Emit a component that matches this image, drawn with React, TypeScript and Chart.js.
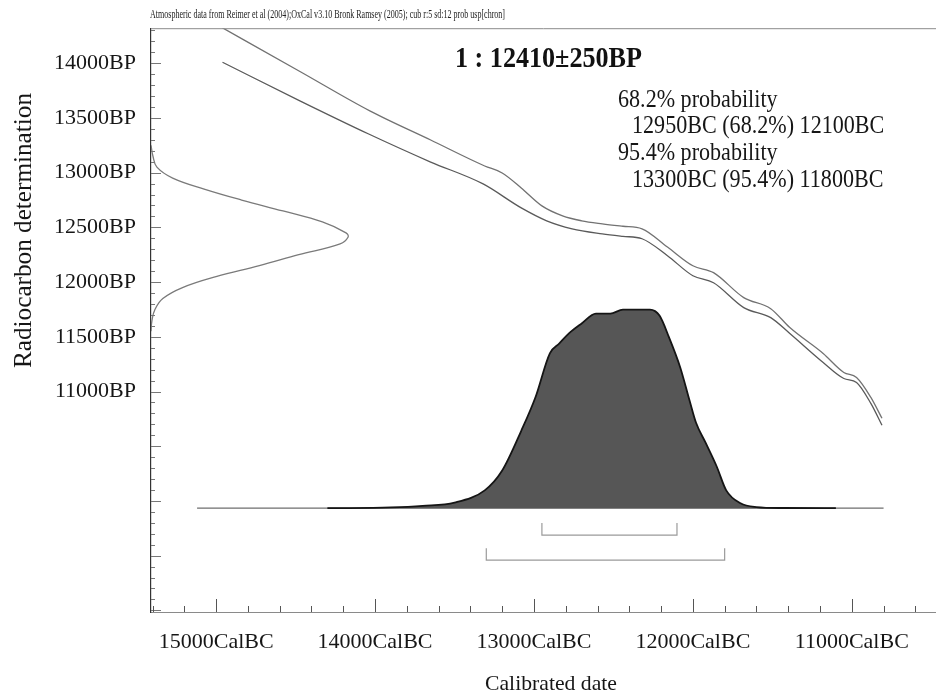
import React, { useEffect, useRef } from "react";
import { Chart, registerables } from "chart.js";

Chart.register(...registerables);

// ---------- texts ----------
const HEADER_TEXT =
  "Atmospheric data from Reimer et al (2004);OxCal v3.10 Bronk Ramsey (2005); cub r:5 sd:12 prob usp[chron]";
const TITLE_TEXT = "1 : 12410±250BP";
const PROB_LINES = [
  "68.2% probability",
  "12950BC (68.2%) 12100BC",
  "95.4% probability",
  "13300BC (95.4%) 11800BC",
];
const X_TITLE = "Calibrated date";
const Y_TITLE = "Radiocarbon determination";

// ---------- axes ----------
const X_MIN_BC = 10470;
const X_MAX_BC = 15410;
const Y_MIN_BP = 8985;
const Y_MAX_BP = 14320;
const X_LABELED = [15000, 14000, 13000, 12000, 11000];
const Y_LABELED = [11000, 11500, 12000, 12500, 13000, 13500, 14000];
const X_MINOR_STEP = 200;
const Y_MINOR_STEP = 100;

// ---------- calibration curve (1 sigma envelope) ----------
const upperBC = [15000, 14470, 14030, 13650, 13310, 13200, 13080, 12950, 12820, 12700, 12570, 12440, 12320, 12160, 12000, 11870, 11680, 11510, 11390, 11180, 11050, 10970, 10880, 10810];
const upperBP = [14356, 13922, 13562, 13298, 13061, 12997, 12860, 12696, 12605, 12560, 12532, 12510, 12487, 12320, 12149, 12086, 11858, 11757, 11584, 11347, 11174, 11128, 10946, 10755];
const lowerBC = [14960, 14470, 14040, 13650, 13320, 13080, 12920, 12760, 12570, 12440, 12320, 12160, 12000, 11870, 11680, 11510, 11390, 11180, 11050, 10970, 10880, 10810];
const lowerBP = [14009, 13654, 13353, 13097, 12897, 12678, 12560, 12487, 12441, 12418, 12396, 12241, 12058, 11994, 11767, 11675, 11530, 11265, 11119, 11083, 10891, 10691];

// ---------- radiocarbon determination distribution ----------
const c14BP = [13250, 13150, 13050, 12950, 12850, 12750, 12650, 12550, 12450, 12410, 12350, 12250, 12150, 12050, 11950, 11850, 11750, 11650, 11550];
const c14Density = [0, 0.01, 0.03, 0.11, 0.27, 0.46, 0.67, 0.87, 0.99, 1.0, 0.96, 0.75, 0.55, 0.33, 0.16, 0.06, 0.02, 0.005, 0];

// ---------- calibrated date distribution ----------
const calBC = [14300, 13900, 13700, 13500, 13310, 13200, 13080, 12990, 12900, 12840, 12780, 12700, 12610, 12520, 12440, 12350, 12270, 12210, 12150, 12080, 12020, 11980, 11920, 11850, 11790, 11700, 11600, 11430, 11100];
const calProb = [0, 0.004, 0.012, 0.028, 0.09, 0.19, 0.39, 0.56, 0.78, 0.83, 0.88, 0.93, 0.98, 0.98, 1.0, 1.0, 1.0, 0.97, 0.86, 0.71, 0.54, 0.43, 0.33, 0.21, 0.09, 0.025, 0.006, 0.001, 0];
const calBaselineBC = [15120, 10800];

// ---------- ranges ----------
const range68 = [12950, 12100];
const range954 = [13300, 11800];
const range68Level = [-0.075, -0.136];
const range954Level = [-0.201, -0.261];

const FONT = '"Liberation Serif", "Times New Roman", serif';

function drawText(ctx: any, text: string, x: number, y: number, font: string, targetWidth: number | null, color = "#161616") {
  ctx.save();
  ctx.font = font;
  ctx.fillStyle = color;
  ctx.textAlign = "left";
  ctx.textBaseline = "alphabetic";
  const w = ctx.measureText(text).width;
  const sx = targetWidth ? targetWidth / w : 1;
  ctx.translate(x, y);
  ctx.scale(sx, 1);
  ctx.fillText(text, 0, 0);
  ctx.restore();
}

const decorPlugin = {
  id: "oxcalDecor",
  afterDraw(chart: any) {
    const { ctx, chartArea: a, scales } = chart;
    ctx.save();
    // top frame line
    ctx.strokeStyle = "#8c8c8c";
    ctx.lineWidth = 1;
    ctx.beginPath();
    ctx.moveTo(a.left, a.top + 0.5);
    ctx.lineTo(a.right, a.top + 0.5);
    ctx.stroke();

    // inner tick marks, y
    const ys = scales.y;
    ctx.strokeStyle = "#777";
    ys.ticks.forEach((t: any) => {
      const py = Math.round(ys.getPixelForValue(t.value)) + 0.5;
      const len = t.value % 500 === 0 ? 10 : 4;
      ctx.beginPath();
      ctx.moveTo(a.left, py);
      ctx.lineTo(a.left + len, py);
      ctx.stroke();
    });
    // inner tick marks, x
    const xs = scales.x;
    ctx.strokeStyle = "#555";
    xs.ticks.forEach((t: any) => {
      const px = Math.round(xs.getPixelForValue(t.value)) + 0.5;
      const len = t.value % 1000 === 0 ? 13 : 6;
      ctx.beginPath();
      ctx.moveTo(px, a.bottom);
      ctx.lineTo(px, a.bottom - len);
      ctx.stroke();
    });
    ctx.restore();

    // texts
    drawText(ctx, HEADER_TEXT, 150, 18, `12px ${FONT}`, 355, "#222");
    drawText(ctx, TITLE_TEXT, 455, 67, `bold 30px ${FONT}`, 187, "#111");
    const baselines = [107, 133, 160, 187];
    const lefts = [618, 632, 618, 632];
    PROB_LINES.forEach((s, i) => {
      ctx.save();
      ctx.font = `26px ${FONT}`;
      const w = ctx.measureText(s).width;
      ctx.restore();
      drawText(ctx, s, lefts[i], baselines[i], `26px ${FONT}`, w * 0.85, "#161616");
    });
    drawText(ctx, X_TITLE, 485, 690, `22px ${FONT}`, 132, "#161616");
    ctx.save();
    ctx.translate(31, 368);
    ctx.rotate(-Math.PI / 2);
    drawText(ctx, Y_TITLE, 0, 0, `25px ${FONT}`, 275, "#161616");
    ctx.restore();
  },
};

export default function App() {
  const ref = useRef<HTMLCanvasElement | null>(null);

  useEffect(() => {
    document.body.style.margin = "0";
    const canvas = ref.current;
    if (!canvas) return;

    const pts = (xs: number[], ys: number[]) => xs.map((x, i) => ({ x, y: ys[i] }));
    const bracket = (r: number[], lv: number[]) => [
      { x: r[0], y: lv[0] },
      { x: r[0], y: lv[1] },
      { x: r[1], y: lv[1] },
      { x: r[1], y: lv[0] },
    ];

    const chart = new Chart(canvas, {
      type: "line",
      data: {
        datasets: [
          {
            label: "calibrated",
            data: pts(calBC, calProb),
            xAxisID: "x",
            yAxisID: "y2",
            fill: "origin",
            backgroundColor: "#565656",
            borderColor: "#151515",
            borderWidth: 1.8,
            cubicInterpolationMode: "monotone",
            pointRadius: 0,
          },
          {
            label: "baseline",
            data: calBaselineBC.map((x) => ({ x, y: 0 })),
            xAxisID: "x",
            yAxisID: "y2",
            borderColor: "#6e6e6e",
            borderWidth: 1.2,
            pointRadius: 0,
            fill: false,
          },
          {
            label: "curve upper",
            data: pts(upperBC, upperBP),
            xAxisID: "x",
            yAxisID: "y",
            borderColor: "#727272",
            borderWidth: 1.3,
            cubicInterpolationMode: "monotone",
            pointRadius: 0,
            fill: false,
          },
          {
            label: "curve lower",
            data: pts(lowerBC, lowerBP),
            xAxisID: "x",
            yAxisID: "y",
            borderColor: "#5a5a5a",
            borderWidth: 1.3,
            cubicInterpolationMode: "monotone",
            pointRadius: 0,
            fill: false,
          },
          {
            label: "radiocarbon",
            data: c14BP.map((bp, i) => ({ x: c14Density[i], y: bp })),
            xAxisID: "x2",
            yAxisID: "y",
            borderColor: "#7a7a7a",
            borderWidth: 1.3,
            tension: 0.4,
            pointRadius: 0,
            fill: false,
          },
          {
            label: "68.2%",
            data: bracket(range68, range68Level),
            xAxisID: "x",
            yAxisID: "y2",
            borderColor: "#9a9a9a",
            borderWidth: 1.2,
            pointRadius: 0,
            fill: false,
          },
          {
            label: "95.4%",
            data: bracket(range954, range954Level),
            xAxisID: "x",
            yAxisID: "y2",
            borderColor: "#9a9a9a",
            borderWidth: 1.2,
            pointRadius: 0,
            fill: false,
          },
        ],
      },
      options: {
        responsive: false,
        devicePixelRatio: 1,
        animation: false,
        events: [],
        layout: { padding: { top: 27, right: 0, bottom: 0, left: 0 } },
        plugins: {
          legend: { display: false },
          tooltip: { enabled: false },
          title: { display: false },
        },
        scales: {
          x: {
            type: "linear",
            position: "bottom",
            reverse: true,
            min: X_MIN_BC,
            max: X_MAX_BC,
            afterBuildTicks: (scale: any) => {
              const ticks = [];
              const start = Math.ceil(X_MIN_BC / X_MINOR_STEP) * X_MINOR_STEP;
              for (let v = start; v <= X_MAX_BC; v += X_MINOR_STEP) ticks.push({ value: v });
              scale.ticks = ticks;
            },
            afterFit: (scale: any) => {
              scale.height = 84;
            },
            grid: { display: false, drawTicks: false },
            border: { display: true, color: "#8a8a8a", width: 1 },
            ticks: {
              autoSkip: false,
              maxRotation: 0,
              minRotation: 0,
              padding: 17,
              color: "#161616",
              font: { family: FONT, size: 22 },
              callback: (v: any) => (X_LABELED.includes(Number(v)) ? `${v}CalBC` : ""),
            },
          },
          y: {
            type: "linear",
            position: "left",
            min: Y_MIN_BP,
            max: Y_MAX_BP,
            afterBuildTicks: (scale: any) => {
              const ticks = [];
              const start = Math.ceil(Y_MIN_BP / Y_MINOR_STEP) * Y_MINOR_STEP;
              for (let v = start; v <= Y_MAX_BP; v += Y_MINOR_STEP) ticks.push({ value: v });
              scale.ticks = ticks;
            },
            afterFit: (scale: any) => {
              scale.width = 151;
            },
            grid: { display: false, drawTicks: false },
            border: { display: true, color: "#333", width: 1.2 },
            ticks: {
              autoSkip: false,
              padding: 15,
              color: "#161616",
              font: { family: FONT, size: 22 },
              callback: (v: any) => (Y_LABELED.includes(Number(v)) ? `${v}BP` : ""),
            },
          },
          x2: {
            type: "linear",
            display: false,
            min: 0,
            max: 3.985,
          },
          y2: {
            type: "linear",
            display: false,
            min: -0.5226,
            max: 2.417,
          },
        },
      },
      plugins: [decorPlugin],
    } as any);

    return () => chart.destroy();
  }, []);

  return (
    <div style={{ position: "fixed", left: 0, top: 0, width: 936, height: 696, background: "#fff" }}>
      <canvas ref={ref} width={936} height={696} style={{ display: "block", width: 936, height: 696 }} />
    </div>
  );
}
